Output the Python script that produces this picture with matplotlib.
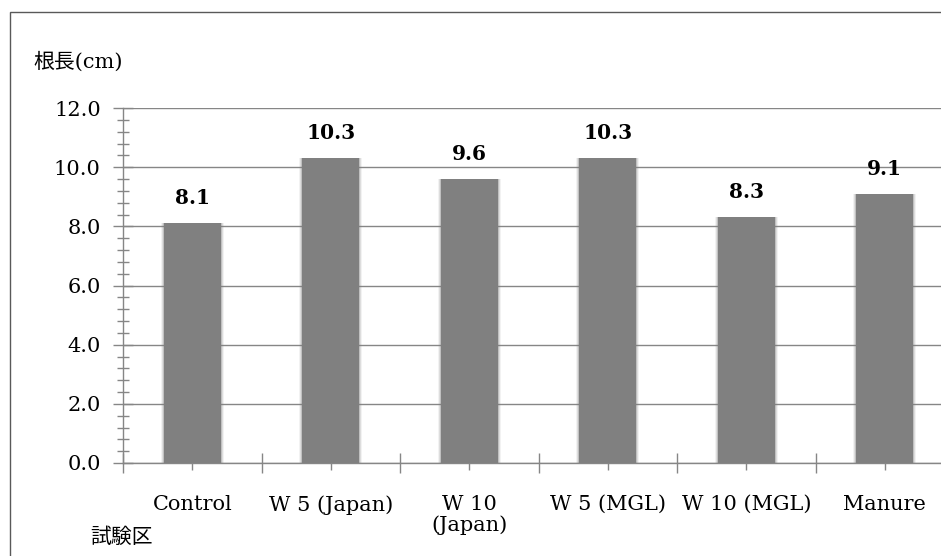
import matplotlib
matplotlib.use("Agg")
import matplotlib.pyplot as plt
from matplotlib.patches import Rectangle
from matplotlib.ticker import MultipleLocator, FixedLocator, NullFormatter

categories = ["Control", "W 5 (Japan)", "W 10\n(Japan)", "W 5 (MGL)", "W 10 (MGL)", "Manure"]
values = [8.1, 10.3, 9.6, 10.3, 8.3, 9.1]
y_ticks = [0.0, 2.0, 4.0, 6.0, 8.0, 10.0, 12.0]
y_label = "根長(cm)"
x_label = "試験区"

W, H = 941, 556
fonts = ["DejaVu Serif", "Noto Sans CJK JP"]
plt.rcParams["font.family"] = fonts

fig = plt.figure(figsize=(W / 100, H / 100), dpi=100)

# outer chart frame (right and bottom edges fall outside the canvas)
fig.patches.append(Rectangle((10 / W, -0.1), 1.2, (H - 12) / H + 0.1,
                             transform=fig.transFigure, fill=False,
                             edgecolor="#595959", linewidth=1.0))

left, right = 123 / W, 954 / W
bottom, top = (H - 463) / H, (H - 108) / H
ax = fig.add_axes([left, bottom, right - left, top - bottom])
ax.set_facecolor("none")

grey = "#868686"
bar_w = 0.41
x = list(range(len(categories)))

# soft edge around each bar
for k, a in [(3, 0.10), (2, 0.18), (1, 0.30)]:
    ax.bar(x, values, width=bar_w + k * 0.016, color="#808080", alpha=a,
           linewidth=0, zorder=2)
ax.bar(x, values, width=bar_w, color="#808080", linewidth=0, zorder=3)

for xi, v in zip(x, values):
    ax.annotate(f"{v:.1f}", (xi, v), xytext=(0, 11), textcoords="offset points",
                ha="center", va="bottom", fontsize=14.5, fontweight="bold",
                color="black", zorder=4)

ax.set_xlim(-0.5, len(categories) - 0.5)
ax.set_ylim(0, 12)

ax.yaxis.set_major_locator(FixedLocator(y_ticks))
ax.set_yticklabels([f"{t:.1f}" for t in y_ticks])
ax.yaxis.set_minor_locator(MultipleLocator(0.4))
ax.grid(axis="y", which="major", color=grey, linewidth=1.0, zorder=1)

ax.xaxis.set_major_locator(FixedLocator([i - 0.5 for i in range(len(categories) + 1)]))
ax.xaxis.set_major_formatter(NullFormatter())
ax.xaxis.set_minor_locator(FixedLocator(x))
ax.set_xticklabels(categories, minor=True)

ax.tick_params(axis="y", which="major", direction="inout", length=14, width=1,
               color=grey, labelsize=15, pad=9, labelcolor="black")
ax.tick_params(axis="y", which="minor", direction="inout", length=9, width=1,
               color=grey)
ax.tick_params(axis="x", which="major", direction="inout", length=15, width=1,
               color=grey)
ax.tick_params(axis="x", which="minor", direction="inout", length=10, width=1,
               color=grey, labelsize=15, pad=18, labelcolor="black")
for lbl in ax.get_xticklabels(minor=True):
    lbl.set_linespacing(1.1)

for s in ("top", "right"):
    ax.spines[s].set_visible(False)
for s in ("left", "bottom"):
    ax.spines[s].set_color(grey)
    ax.spines[s].set_linewidth(1.0)
ax.set_axisbelow(True)

fig.text(33 / W, 1 - 62 / H, y_label, ha="left", va="center", fontsize=15,
         family=fonts)
fig.text(90 / W, 1 - 537 / H, x_label, ha="left", va="center", fontsize=15,
         family=fonts)

fig.savefig("out.png", dpi=100)
